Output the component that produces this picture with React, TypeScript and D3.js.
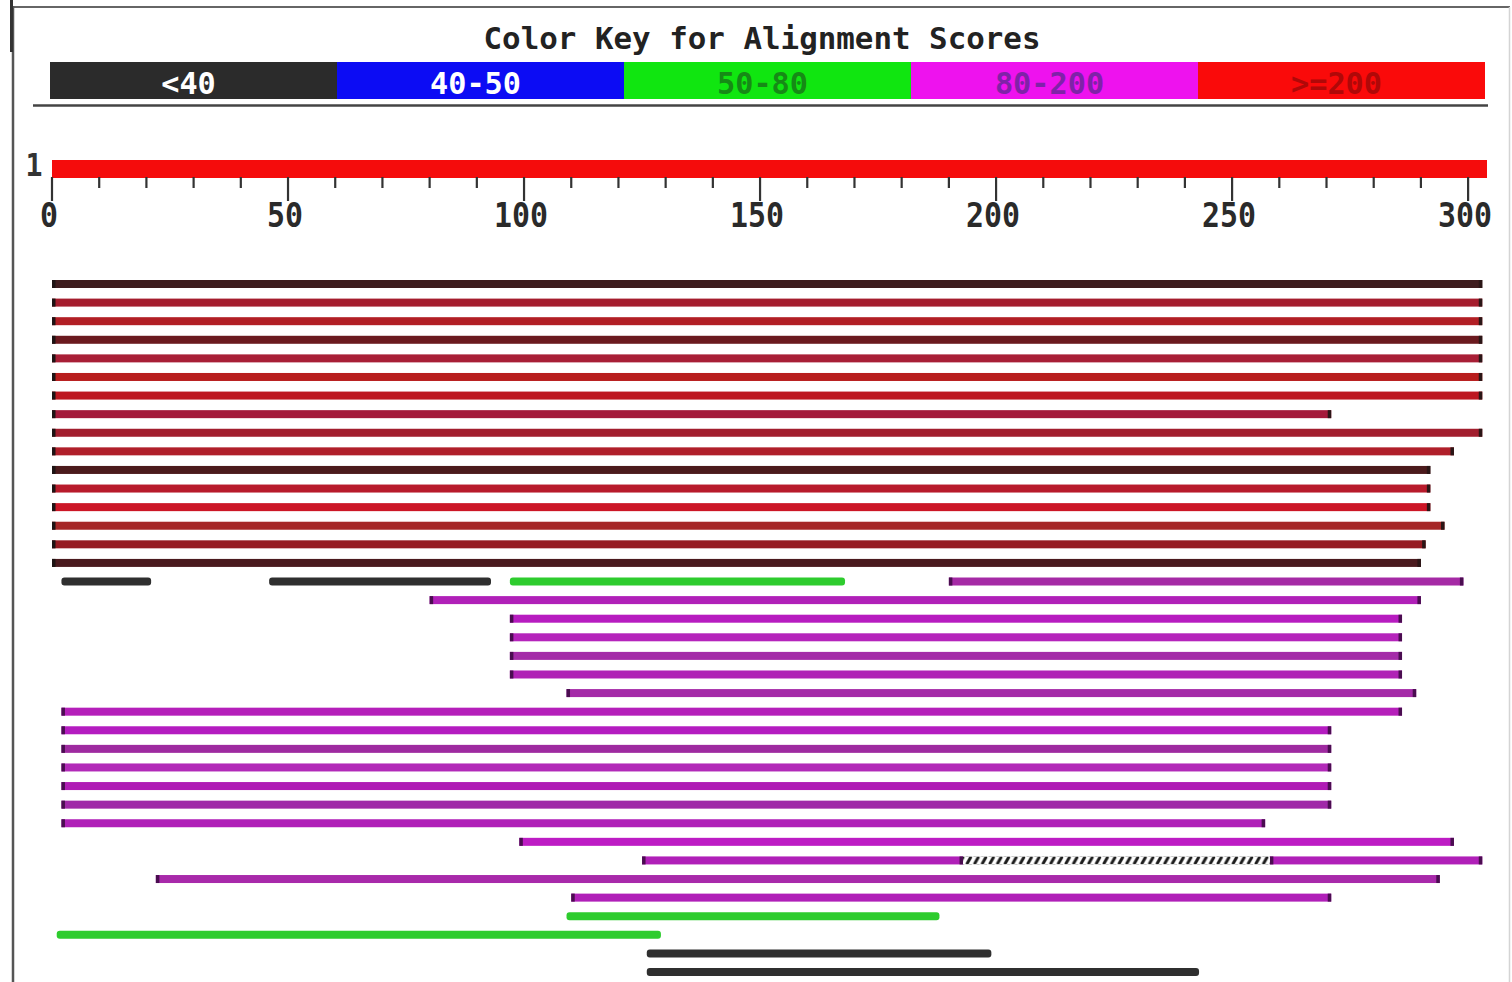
import React from 'react';
import * as d3 from 'd3';

const W = 1512;
const H = 982;

// colour key bins
const keyLabels = ['<40', '40-50', '50-80', '80-200', '>=200'];
const keyFill = ['#2b2b2b', '#0c0cf4', '#10e610', '#ee12ee', '#fa0a0a'];
const keyInk = ['#ffffff', '#ffffff', '#168a16', '#7f22a8', '#b00808'];

// query sequence and ruler
const queryLabel = '1';
const queryLength = 304;
const majorTicks = [0, 50, 100, 150, 200, 250, 300];
const minorTicks = [10, 20, 30, 40, 60, 70, 80, 90, 110, 120, 130, 140, 160, 170, 180, 190, 210, 220, 230, 240, 260, 270, 280, 290];

// hit segments (row index, query start, query end, score bin index into keyLabels)
const hitRow = [0, 1, 2, 3, 4, 5, 6, 7, 8, 9, 10, 11, 12, 13, 14, 15, 16, 16, 16, 16, 17, 18, 19, 20, 21, 22, 23, 24, 25, 26, 27, 28, 29, 30, 31, 31, 32, 33, 34, 35, 36, 37];
const hitStart = [0, 0, 0, 0, 0, 0, 0, 0, 0, 0, 0, 0, 0, 0, 0, 0, 2, 46, 97, 190, 80, 97, 97, 97, 97, 109, 2, 2, 2, 2, 2, 2, 2, 99, 125, 258, 22, 110, 109, 1, 126, 126];
const hitEnd = [303, 303, 303, 303, 303, 303, 303, 271, 303, 297, 292, 292, 292, 295, 291, 290, 21, 93, 168, 299, 290, 286, 286, 286, 286, 289, 286, 271, 271, 271, 271, 271, 257, 297, 193, 303, 294, 271, 188, 129, 199, 243];
const hitBin = [4, 4, 4, 4, 4, 4, 4, 4, 4, 4, 4, 4, 4, 4, 4, 4, 0, 0, 2, 3, 3, 3, 3, 3, 3, 3, 3, 3, 3, 3, 3, 3, 3, 3, 3, 3, 3, 3, 2, 2, 0, 0];
const rowCount = 38;

// unaligned stretch inside a hit, drawn hatched
const gapRow = [31];
const gapStart = [193];
const gapEnd = [258];

// per-row tones as they appear in the picture
const redTones = ['#3e1c1e', '#a51d2d', '#b21f25', '#6b1a1f', '#a81f36', '#b81d1d', '#bd1720', '#a41a3a', '#a21e2e', '#b01f2a', '#4b1a1c', '#b81b2b', '#cc1626', '#a52727', '#961b22', '#4a1a1e'];
const purpleTones = ['#a52aa5', '#b020b8', '#b71cc0', '#b524bb', '#a42ca8', '#b022b5', '#a52aa8', '#b51fba', '#b41cc0', '#9e2aa0', '#b22ab8', '#b01cb5', '#a028a8', '#b020b8', '#bd1cc4', '#b020b8', '#a82aaa', '#b020b8'];
const greenTone = '#2ecc2e';
const blackTone = '#2f2f2f';

const tone = (bin: number, row: number) => {
  if (bin === 4) return redTones[row] || '#b01c24';
  if (bin === 3) return purpleTones[row - 16] || '#b020b8';
  if (bin === 2) return greenTone;
  if (bin === 1) return '#1a1ae0';
  return blackTone;
};

const mono = '"DejaVu Sans Mono", "Liberation Mono", monospace';

export default function App() {
  const x = d3.scaleLinear().domain([0, queryLength]).range([52, 1487]);
  const key = d3.scaleBand<string>().domain(keyLabels).range([50, 1485]);
  const rowY = d3.scaleLinear().domain([0, rowCount - 1]).range([284, 972]);
  const barH = 8;

  const segs = hitRow.map((r, i) => ({ row: r, s: hitStart[i], e: hitEnd[i], bin: hitBin[i] }));

  return (
    <svg width={W} height={H} style={{ position: 'absolute', left: 0, top: 0, background: '#fff' }}>
      <defs>
        <pattern id="hatch" patternUnits="userSpaceOnUse" width={7.6} height={8} y={rowY(31) - 4}>
          <rect width={7.6} height={8} fill="#fff" />
          <line x1={2} y1={7} x2={5.4} y2={1} stroke="#1c1c1c" strokeWidth={3} strokeLinecap="round" />
        </pattern>
      </defs>

      {/* frame */}
      <line x1={13} y1={7} x2={1510} y2={7} stroke="#666" strokeWidth={2} />
      <line x1={13} y1={6} x2={13} y2={H} stroke="#555" strokeWidth={2.5} />
      <line x1={11.5} y1={0} x2={11.5} y2={52} stroke="#333" strokeWidth={3} />
      <line x1={1509.5} y1={7} x2={1509.5} y2={H} stroke="#d4d4d4" strokeWidth={1.5} />

      {/* colour key */}
      <text x={762} y={49} textAnchor="middle" fontFamily={mono} fontSize={30} fontWeight={600} fill="#222"
        textLength={557} lengthAdjust="spacingAndGlyphs">Color Key for Alignment Scores</text>
      {keyLabels.map((k, i) => (
        <g key={k}>
          <rect x={key(k)} y={62} width={key.bandwidth()} height={37} fill={keyFill[i]} />
          <text x={(key(k) as number) + key.bandwidth() / 2 - 5} y={94} textAnchor="middle"
            fontFamily={mono} fontWeight="bold" fontSize={31} fill={keyInk[i]}
            textLength={k.length * 18.2} lengthAdjust="spacingAndGlyphs">{k}</text>
        </g>
      ))}
      <line x1={33} y1={105.5} x2={1488} y2={105.5} stroke="#444" strokeWidth={2.5} />

      {/* query bar with ruler */}
      <text x={34} y={176} textAnchor="middle" fontFamily={mono} fontWeight="bold" fontSize={32} fill="#333"
        textLength={17} lengthAdjust="spacingAndGlyphs">{queryLabel}</text>
      <rect x={x(0)} y={160} width={x(queryLength) - x(0)} height={18} fill="#f50c0c" />
      {minorTicks.map(t => (
        <line key={'m' + t} x1={x(t)} y1={177} x2={x(t)} y2={188} stroke="#333" strokeWidth={2.2} />
      ))}
      {majorTicks.map(t => (
        <g key={'M' + t}>
          <line x1={x(t)} y1={177} x2={x(t)} y2={201} stroke="#333" strokeWidth={2.2} />
          <text x={x(t) - 3} y={227} textAnchor="middle" fontFamily={mono} fontWeight="bold" fontSize={33} fill="#2a2a2a"
            textLength={String(t).length * 18} lengthAdjust="spacingAndGlyphs">{t}</text>
        </g>
      ))}

      {/* hits */}
      {segs.map((d, i) => {
        const x0 = x(d.s);
        const x1 = x(d.e);
        const y = rowY(d.row) - barH / 2;
        const c = tone(d.bin, d.row);
        const capped = d.bin >= 3;
        const round = d.bin < 3 ? 3 : 0;
        return (
          <g key={i}>
            <rect x={x0} y={y} width={x1 - x0} height={barH} fill={c} rx={round} />
            {capped && <rect x={x0} y={y} width={3.5} height={barH} fill={d.bin === 4 ? '#1e1414' : '#4a0d50'} />}
            {capped && <rect x={x1 - 3.5} y={y} width={3.5} height={barH} fill={d.bin === 4 ? '#2a1616' : '#4a0d50'} />}
          </g>
        );
      })}

      {/* hatched unaligned gaps */}
      {gapRow.map((r, i) => (
        <rect key={'g' + i} x={x(gapStart[i])} y={rowY(r) - 4} width={x(gapEnd[i]) - x(gapStart[i])} height={8} fill="url(#hatch)" />
      ))}
    </svg>
  );
}
